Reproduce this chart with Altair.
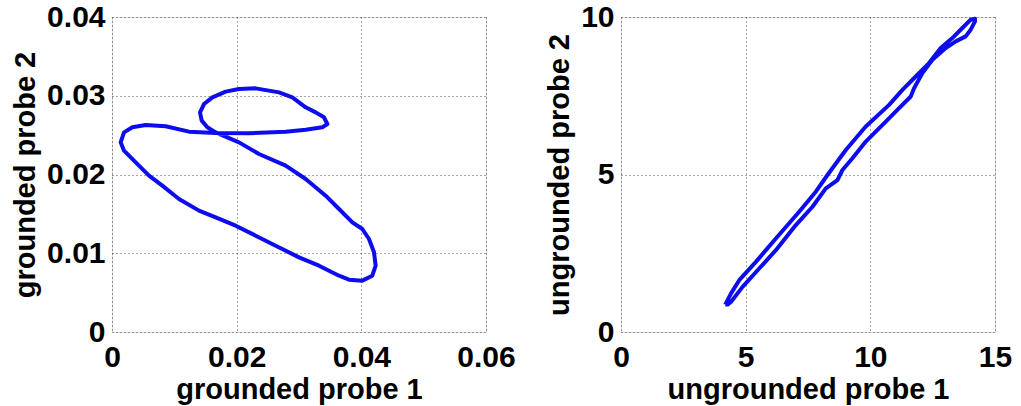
import altair as alt
import pandas as pd

# Left panel: grounded probes (path order preserved)
g1 = [0.01663, 0.02037, 0.02358, 0.02786, 0.03107, 0.03428, 0.03642, 0.03856, 0.04016, 0.04123,
      0.04203, 0.04230, 0.04176, 0.04016, 0.03802, 0.03642, 0.03321, 0.03000, 0.02626, 0.02305,
      0.01984, 0.01663, 0.01396, 0.01075, 0.00807, 0.00594, 0.00380, 0.00193, 0.00139, 0.00193,
      0.00326, 0.00540, 0.00861, 0.01235, 0.01663, 0.02198, 0.02786, 0.03107, 0.03374, 0.03455,
      0.03401, 0.03267, 0.03107, 0.02893, 0.02679, 0.02305, 0.02037, 0.01824, 0.01610, 0.01476,
      0.01412, 0.01439, 0.01529, 0.01663]
g2 = [0.02535, 0.02408, 0.02260, 0.02112, 0.01943, 0.01731, 0.01562, 0.01393, 0.01308, 0.01181,
      0.01012, 0.00842, 0.00715, 0.00652, 0.00665, 0.00715, 0.00842, 0.00948, 0.01096, 0.01223,
      0.01350, 0.01456, 0.01541, 0.01689, 0.01858, 0.01985, 0.02155, 0.02303, 0.02408, 0.02535,
      0.02599, 0.02629, 0.02612, 0.02544, 0.02527, 0.02523, 0.02544, 0.02569, 0.02599, 0.02641,
      0.02726, 0.02789, 0.02853, 0.02980, 0.03043, 0.03094, 0.03086, 0.03052, 0.02980, 0.02895,
      0.02789, 0.02684, 0.02599, 0.02535]

# Right panel: ungrounded probes
u1 = [4.181, 4.408, 4.742, 5.410, 6.211, 7.146, 7.814, 8.281, 9.016, 9.817,
      10.752, 11.287, 11.821, 12.355, 12.823, 13.290, 13.691, 14.025, 14.199,
      14.199, 14.025, 13.824, 13.424, 13.023, 12.489, 12.088, 11.754, 11.621, 11.153,
      10.619, 10.085, 9.817, 9.283, 8.882, 8.682, 8.215, 7.680, 7.012, 6.211,
      5.543, 4.875, 4.408, 4.274, 4.181]
u2 = [0.870, 1.220, 1.644, 2.227, 2.969, 3.818, 4.454, 4.984, 5.779, 6.522,
      7.211, 7.688, 8.112, 8.537, 9.014, 9.332, 9.650, 9.915, 9.947,
      9.862, 9.597, 9.385, 9.226, 9.014, 8.643, 8.218, 7.741, 7.476, 7.105,
      6.681, 6.257, 6.045, 5.514, 5.143, 4.825, 4.560, 3.977, 3.393, 2.598,
      2.015, 1.432, 0.954, 0.870, 0.870]

left_x_ticks = [0, 0.02, 0.04, 0.06]
left_y_ticks = [0, 0.01, 0.02, 0.03, 0.04]
right_x_ticks = [0, 5, 10, 15]
right_y_ticks = [0, 5, 10]

dfL = pd.DataFrame({"x": g1, "y": g2, "i": range(len(g1))})
dfR = pd.DataFrame({"x": u1, "y": u2, "i": range(len(u1))})

FONT = "Liberation Sans"
BLUE = "#0c0cee"

def axis(ticks, title, orient):
    return alt.Axis(
        values=ticks, title=title, format="~r", grid=True, gridColor="#222222", gridDash=[1, 3],
        gridWidth=1, gridOpacity=0.8, ticks=False, domain=False,
        labelFont=FONT, labelFontSize=30, labelFontWeight="bold", labelColor="black",
        titleFont=FONT, titleFontSize=29, titleFontWeight="bold", titleColor="black",
        labelPadding=10 if orient == "x" else 7, titlePadding=3 if orient == "x" else 6,
        labelFlush=False, labelOverlap=False,
    )

def panel(df, xt, yt, xtitle, ytitle, xdom, ydom):
    return alt.Chart(df).mark_line(color=BLUE, strokeWidth=4, strokeJoin="round").encode(
        x=alt.X("x:Q", scale=alt.Scale(domain=xdom, nice=False, zero=False), axis=axis(xt, xtitle, "x")),
        y=alt.Y("y:Q", scale=alt.Scale(domain=ydom, nice=False, zero=False), axis=axis(yt, ytitle, "y")),
        order="i:Q",
    ).properties(width=374, height=315)

left = panel(dfL, left_x_ticks, left_y_ticks, "grounded probe 1", "grounded probe 2", [0, 0.06], [0, 0.04])
right = panel(dfR, right_x_ticks, right_y_ticks, "ungrounded probe 1", "ungrounded probe 2", [0, 15], [0, 10])

chart = alt.hconcat(left, right, spacing=29).properties(
    padding={"left": 11, "top": 1, "right": 3, "bottom": 0}
).configure_view(stroke="black", strokeWidth=2).configure(background="white")

chart.save("out.html", embed_options={"renderer": "svg", "actions": False})
